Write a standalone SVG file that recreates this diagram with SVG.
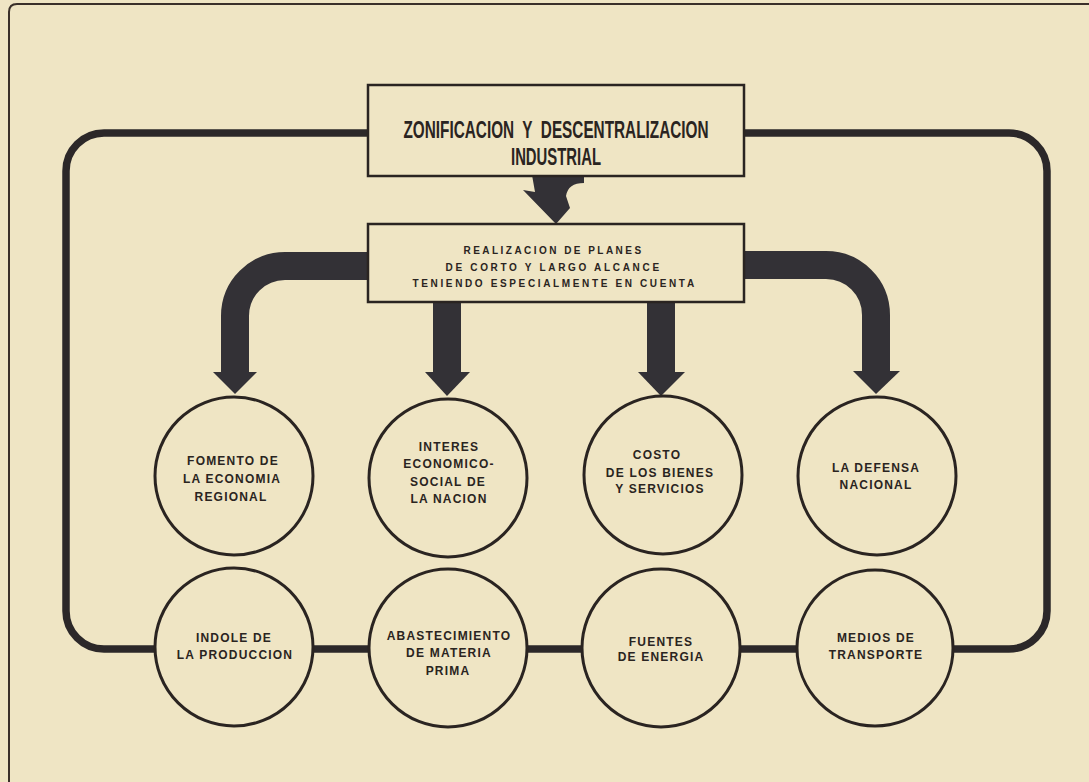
<svg xmlns="http://www.w3.org/2000/svg" width="1089" height="782" viewBox="0 0 1089 782">
<style>
.bg{fill:#efe5c4}
.frame{fill:none;stroke:#3a302a;stroke-width:2}
.loop{fill:none;stroke:#2c2829;stroke-width:7.5}
.fat{fill:none;stroke:#333136;stroke-width:28}
.head{fill:#333136}
.box{fill:#efe5c4;stroke:#2a2421;stroke-width:2.5}
.circ{fill:#efe5c4;stroke:#2a2421;stroke-width:3}
.title{font-family:"Liberation Sans",Arial,sans-serif;font-weight:bold;font-size:23px;fill:#2a2421;text-anchor:middle;white-space:pre}
.sub{font-family:"Liberation Sans",Arial,sans-serif;font-weight:bold;font-size:10px;fill:#2a2421;text-anchor:middle;letter-spacing:1.4px}
.lbl{font-family:"Liberation Sans",Arial,sans-serif;font-weight:bold;font-size:12px;fill:#2a2421;text-anchor:middle;letter-spacing:1.2px}
</style>
<rect class="bg" x="0" y="0" width="1089" height="782"/>
<path class="frame" d="M9 782 V12 Q9 4 17 4 H1089"/>
<g id="connectors">
  <rect class="loop" x="66" y="133" width="981" height="516" rx="38" ry="38"/>
  <path class="fat" d="M368 266 H285 A50 50 0 0 0 235 316 V373"/>
  <polygon class="head" points="213,372 257,372 235,394"/>
  <path class="fat" d="M744 265 H826 A50 50 0 0 1 876 315 V372"/>
  <polygon class="head" points="853,371 900,371 876,394"/>
  <rect class="head" x="433" y="301" width="28" height="72"/>
  <polygon class="head" points="425,372 470,372 447,396"/>
  <rect class="head" x="647" y="301" width="28" height="72"/>
  <polygon class="head" points="638,372 685,372 661,396"/>
  <path class="head" d="M532 175 L584 175 L584 183 Q568 183 566 196 L570 208 L556 224 L523 190 L535 192 Z"/>
</g>
<g id="box-zonificacion">
  <rect class="box" x="368" y="85" width="376" height="91"/>
  <text class="title" x="556" y="138" textLength="305" lengthAdjust="spacingAndGlyphs" xml:space="preserve">ZONIFICACION  Y  DESCENTRALIZACION</text>
  <text class="title" x="556" y="165" textLength="90" lengthAdjust="spacingAndGlyphs">INDUSTRIAL</text>
</g>
<g id="box-realizacion">
  <rect class="box" x="368" y="224" width="376" height="78"/>
  <text class="sub" x="553" y="254" textLength="179" lengthAdjust="spacing">REALIZACION DE PLANES</text>
  <text class="sub" x="553" y="271" textLength="215" lengthAdjust="spacing">DE CORTO Y LARGO ALCANCE</text>
  <text class="sub" x="554" y="287" textLength="283" lengthAdjust="spacing">TENIENDO ESPECIALMENTE EN CUENTA</text>
</g>
<g id="node-fomento">
  <circle class="circ" cx="234" cy="476" r="79"/>
  <text class="lbl" x="233" y="465">FOMENTO DE</text>
  <text class="lbl" x="232" y="483">LA ECONOMIA</text>
  <text class="lbl" x="231" y="501">REGIONAL</text>
</g>
<g id="node-interes">
  <circle class="circ" cx="448" cy="478" r="79"/>
  <text class="lbl" x="449" y="451">INTERES</text>
  <text class="lbl" x="449" y="468">ECONOMICO-</text>
  <text class="lbl" x="448" y="486">SOCIAL DE</text>
  <text class="lbl" x="449" y="503">LA NACION</text>
</g>
<g id="node-costo">
  <circle class="circ" cx="663" cy="475" r="79"/>
  <text class="lbl" x="657" y="459">COSTO</text>
  <text class="lbl" x="660" y="477">DE LOS BIENES</text>
  <text class="lbl" x="660" y="493">Y SERVICIOS</text>
</g>
<g id="node-defensa">
  <circle class="circ" cx="877" cy="476" r="79"/>
  <text class="lbl" x="876" y="472">LA DEFENSA</text>
  <text class="lbl" x="876" y="489">NACIONAL</text>
</g>
<g id="node-indole">
  <circle class="circ" cx="234" cy="647" r="79"/>
  <text class="lbl" x="234" y="642">INDOLE DE</text>
  <text class="lbl" x="235" y="659">LA PRODUCCION</text>
</g>
<g id="node-abastecimiento">
  <circle class="circ" cx="448" cy="648" r="79"/>
  <text class="lbl" x="449" y="640">ABASTECIMIENTO</text>
  <text class="lbl" x="449" y="657">DE MATERIA</text>
  <text class="lbl" x="448" y="675">PRIMA</text>
</g>
<g id="node-fuentes">
  <circle class="circ" cx="661" cy="648" r="79"/>
  <text class="lbl" x="661" y="646">FUENTES</text>
  <text class="lbl" x="661" y="661">DE ENERGIA</text>
</g>
<g id="node-medios">
  <circle class="circ" cx="875" cy="648" r="78"/>
  <text class="lbl" x="876" y="642">MEDIOS DE</text>
  <text class="lbl" x="876" y="659">TRANSPORTE</text>
</g>
</svg>
